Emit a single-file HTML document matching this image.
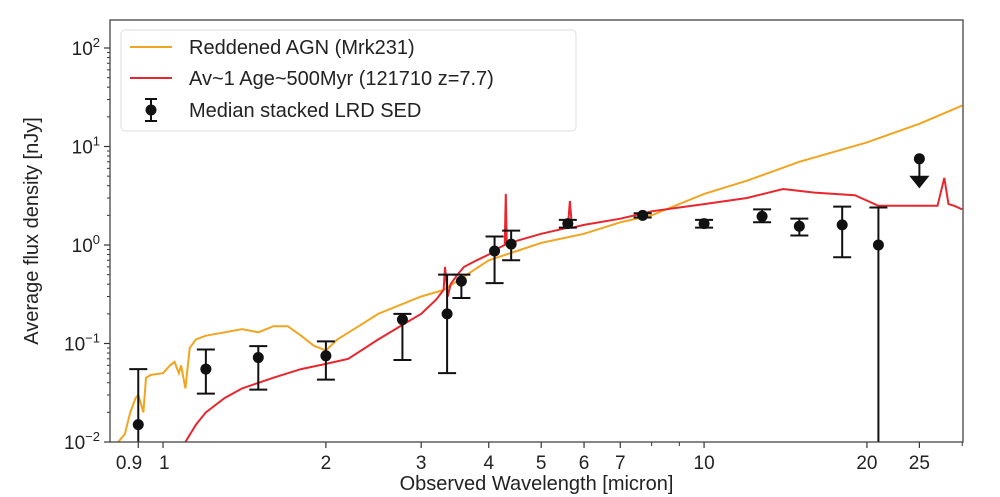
<!DOCTYPE html>
<html><head><meta charset="utf-8"><style>
html,body{margin:0;background:#fff;width:1000px;height:497px;overflow:hidden;}
svg{display:block;font-family:"Liberation Sans","DejaVu Sans",sans-serif;overflow:hidden;}
</style></head><body>
<svg id="chart" width="1000" height="497" viewBox="0 0 1000 497" xmlns="http://www.w3.org/2000/svg">
<g id="plot"></g>
</svg>
<script>
const agnWave=[0.82,0.85,0.87,0.89,0.9,0.92,0.93,0.95,1.0,1.03,1.05,1.07,1.08,1.1,1.12,1.15,1.2,1.3,1.4,1.5,1.6,1.7,1.8,1.9,2.0,2.1,2.3,2.5,3.0,3.3,4.0,5.0,6.0,7.0,8.0,10,12,15,20,25,30];
const agnFlux=[0.007,0.012,0.02,0.028,0.03,0.02,0.045,0.048,0.05,0.06,0.065,0.05,0.06,0.035,0.09,0.11,0.12,0.13,0.14,0.13,0.15,0.15,0.12,0.095,0.085,0.11,0.15,0.2,0.3,0.35,0.7,1.05,1.3,1.7,2.0,3.3,4.5,7.0,11,17,26];
const redWave=[1.1,1.15,1.2,1.3,1.4,1.6,1.8,2.0,2.2,2.5,2.8,3.0,3.2,3.3,3.32,3.36,3.4,3.5,3.6,3.8,4.0,4.2,4.28,4.3,4.32,4.5,5.0,5.6,5.65,5.7,6.0,7.0,8.0,9.0,10,12,14,16,19,21,24,27,27.8,28.3,29,30];
const redFlux=[0.01,0.015,0.02,0.028,0.035,0.045,0.055,0.062,0.07,0.11,0.16,0.2,0.28,0.35,0.6,0.3,0.4,0.5,0.6,0.7,0.8,0.95,1.0,3.3,1.0,1.1,1.3,1.5,2.8,1.5,1.6,1.85,2.2,2.4,2.6,3.0,3.7,3.4,3.2,2.5,2.5,2.5,4.8,2.6,2.5,2.3];
const ptWave=[0.9,1.2,1.5,2.0,2.77,3.35,3.56,4.1,4.4,5.6,7.7,10,12.8,15,18,21];
const ptFlux=[0.015,0.055,0.072,0.075,0.175,0.2,0.43,0.87,1.02,1.65,2.0,1.65,1.95,1.55,1.6,1.0];
const ptLow=[0.005,0.031,0.034,0.043,0.068,0.05,0.29,0.41,0.7,1.5,1.9,1.5,1.7,1.25,0.75,0.001];
const ptHigh=[0.055,0.087,0.094,0.105,0.2,0.5,0.5,1.22,1.4,1.8,2.1,1.8,2.3,1.85,2.45,2.4];
const limWave=[25];
const limFlux=[7.5];
const xTicks=[0.9,1,2,3,4,5,6,7,10,20,25];
const xTickLabels=["0.9","1","2","3","4","5","6","7","10","20","25"];
const yTicks=[-2,-1,0,1,2];

const L=110,R=963,T=20,B=442;
const xmin=Math.log10(0.798),xmax=Math.log10(30.1);
const ymin=-2,ymax=-2+(B-T)/98.5;
function X(v){return L+(Math.log10(v)-xmin)/(xmax-xmin)*(R-L);}
function Y(v){const y=B-(Math.log10(Math.max(v,1e-4))-ymin)/(ymax-ymin)*(B-T);return Math.min(Math.max(y,T-2),B+2);}
const NS="http://www.w3.org/2000/svg";
const g=document.getElementById('plot');
function mk(t,a,p){const e=document.createElementNS(NS,t);for(const k in a)e.setAttribute(k,a[k]);(p||g).appendChild(e);return e;}

const defs=mk('defs',{});
const cp=mk('clipPath',{id:'clip'},defs);
mk('rect',{x:L,y:T,width:R-L,height:B-T},cp);

for(let d=-2;d<3;d++){for(let m=2;m<10;m++){const v=m*Math.pow(10,d);if(Math.log10(v)>ymax)continue;const y=Y(v);
const t=mk('line',{x1:L-3,x2:L,y1:y,y2:y,stroke:'#333','stroke-width':1});

}}
yTicks.forEach(e=>{const y=Y(Math.pow(10,e));
const t=mk('line',{x1:L-6,x2:L,y1:y,y2:y,stroke:'#333','stroke-width':1.2});


const tx=mk('text',{x:L-10,y:y+7,'text-anchor':'end','font-size':19,fill:'#222'});


tx.textContent='10';
const s=mk('tspan',{dy:-8,'font-size':13},tx);s.textContent=e<0?'\u2212'+(-e):String(e);});
[8,9,30].forEach(v=>{const x=X(v);
const t=mk('line',{x1:x,x2:x,y1:B,y2:B+4,stroke:'#333','stroke-width':1});

});
xTicks.forEach((v,i)=>{const x=X(v);
const t=mk('line',{x1:x,x2:x,y1:B,y2:B+6,stroke:'#333','stroke-width':1.2});


let lx=x,anchor='middle';
if(v===0.9){lx=x+4;anchor='end';} if(v===1){lx=x-4;anchor='start';}
const tx=mk('text',{x:lx,y:B+27,'text-anchor':anchor,'font-size':19,fill:'#222'});


tx.textContent=xTickLabels[i];});

function path(ws,fs){return ws.map((w,i)=>(i?'L':'M')+X(w).toFixed(1)+','+Y(fs[i]).toFixed(1)).join('');}
const pc=mk('g',{'clip-path':'url(#clip)'});
const agn=mk('path',{d:path(agnWave,agnFlux),fill:'none',stroke:'#f0a520','stroke-width':2},pc);


const red=mk('path',{d:path(redWave,redFlux),fill:'none',stroke:'#e8262e','stroke-width':2},pc);



ptWave.forEach((w,i)=>{const x=X(w);
const eb=mk('path',{d:`M${x},${Y(ptLow[i])}L${x},${Y(ptHigh[i])}M${x-9},${Y(ptLow[i])}L${x+9},${Y(ptLow[i])}M${x-9},${Y(ptHigh[i])}L${x+9},${Y(ptHigh[i])}`,stroke:'#111','stroke-width':2,fill:'none'},pc);


const c=mk('circle',{cx:x,cy:Y(ptFlux[i]),r:5.5,fill:'#111'},pc);

});
limWave.forEach((w,i)=>{const x=X(w),y=Y(limFlux[i]);
const a=mk('path',{d:`M${x},${y}L${x},${y+20}M${x-8},${y+18}L${x+8},${y+18}L${x},${y+28}Z`,stroke:'#111','stroke-width':2,fill:'#111'},pc);


const c=mk('circle',{cx:x,cy:y,r:5.5,fill:'#111'},pc);

});

const fr=mk('rect',{x:L,y:T,width:R-L,height:B-T,fill:'none',stroke:'#444','stroke-width':1.3});



const xl=mk('text',{x:(L+R)/2,y:490,'text-anchor':'middle','font-size':20,fill:'#222'});


xl.textContent='Observed Wavelength [micron]';
const yl=mk('text',{x:0,y:0,'text-anchor':'middle','font-size':20,fill:'#222',transform:'translate(38,231) rotate(-90)'});


yl.textContent='Average flux density [nJy]';

const lg=mk('g',{});


mk('rect',{x:121,y:30,width:455,height:101,rx:4,fill:'#fff','fill-opacity':0.9,stroke:'#ddd','stroke-width':1},lg);
mk('line',{x1:130,x2:172,y1:47,y2:47,stroke:'#f0a520','stroke-width':2},lg);
mk('line',{x1:130,x2:172,y1:78,y2:78,stroke:'#e8262e','stroke-width':2},lg);
mk('path',{d:'M151,99L151,121M145,99L157,99M145,121L157,121',stroke:'#111','stroke-width':2},lg);
mk('circle',{cx:151,cy:110,r:5.5,fill:'#111'},lg);
[['Reddened AGN (Mrk231)',54,'legend-agn'],['Av~1 Age~500Myr (121710 z=7.7)',85,'legend-galaxy'],['Median stacked LRD SED',117,'legend-points']].forEach(a=>{
const t=mk('text',{x:189,y:a[1],'font-size':20,fill:'#222'},lg);


t.textContent=a[0];});
</script>
</body></html>
